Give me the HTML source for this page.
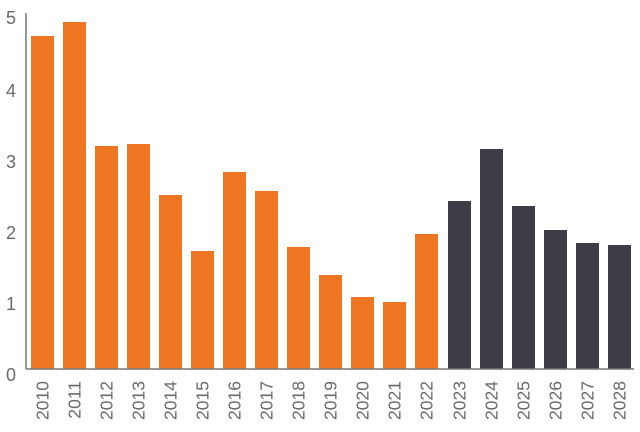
<!DOCTYPE html>
<html><head><style>
body{margin:0;background:#fff;}
svg text{font-family:"Liberation Sans",sans-serif;fill:#6a6a6a;}
</style></head><body>
<svg width="640" height="427" xmlns="http://www.w3.org/2000/svg">
<g font-size="18" text-anchor="middle">
<text x="11" y="24">5</text>
<text x="11" y="97">4</text>
<text x="11" y="168">3</text>
<text x="11" y="239">2</text>
<text x="11" y="310">1</text>
<text x="11" y="381">0</text>
</g>
<g fill="#ee7623">
<rect x="31" y="36" width="23" height="333"/>
<rect x="63" y="22" width="23" height="347"/>
<rect x="95" y="146" width="23" height="223"/>
<rect x="127" y="144" width="23" height="225"/>
<rect x="159" y="195" width="23" height="174"/>
<rect x="191" y="251" width="23" height="118"/>
<rect x="223" y="172" width="23" height="197"/>
<rect x="255" y="191" width="23" height="178"/>
<rect x="287" y="247" width="23" height="122"/>
<rect x="319" y="275" width="23" height="94"/>
<rect x="351" y="297" width="23" height="72"/>
<rect x="383" y="302" width="23" height="67"/>
<rect x="415" y="234" width="23" height="135"/>
</g>
<g fill="#3e3c47">
<rect x="448" y="201" width="23" height="168"/>
<rect x="480" y="149" width="23" height="220"/>
<rect x="512" y="206" width="23" height="163"/>
<rect x="544" y="230" width="23" height="139"/>
<rect x="576" y="243" width="23" height="126"/>
<rect x="608" y="245" width="23" height="124"/>
</g>
<g font-size="17.5" text-anchor="end">
<text transform="translate(48.5,381) rotate(-90)">2010</text>
<text transform="translate(80.5,381) rotate(-90)">2011</text>
<text transform="translate(112.5,381) rotate(-90)">2012</text>
<text transform="translate(144.5,381) rotate(-90)">2013</text>
<text transform="translate(176.5,381) rotate(-90)">2014</text>
<text transform="translate(208.5,381) rotate(-90)">2015</text>
<text transform="translate(240.5,381) rotate(-90)">2016</text>
<text transform="translate(272.5,381) rotate(-90)">2017</text>
<text transform="translate(304.5,381) rotate(-90)">2018</text>
<text transform="translate(336.5,381) rotate(-90)">2019</text>
<text transform="translate(368.5,381) rotate(-90)">2020</text>
<text transform="translate(400.5,381) rotate(-90)">2021</text>
<text transform="translate(432.5,381) rotate(-90)">2022</text>
<text transform="translate(465.5,381) rotate(-90)">2023</text>
<text transform="translate(497.5,381) rotate(-90)">2024</text>
<text transform="translate(529.5,381) rotate(-90)">2025</text>
<text transform="translate(561.5,381) rotate(-90)">2026</text>
<text transform="translate(593.5,381) rotate(-90)">2027</text>
<text transform="translate(625.5,381) rotate(-90)">2028</text>
</g>
<line x1="26" y1="13" x2="26" y2="369" stroke="#777" stroke-width="1.5"/>
<line x1="26" y1="369" x2="634" y2="369" stroke="#777" stroke-width="1.5"/>
</svg>
</body></html>
